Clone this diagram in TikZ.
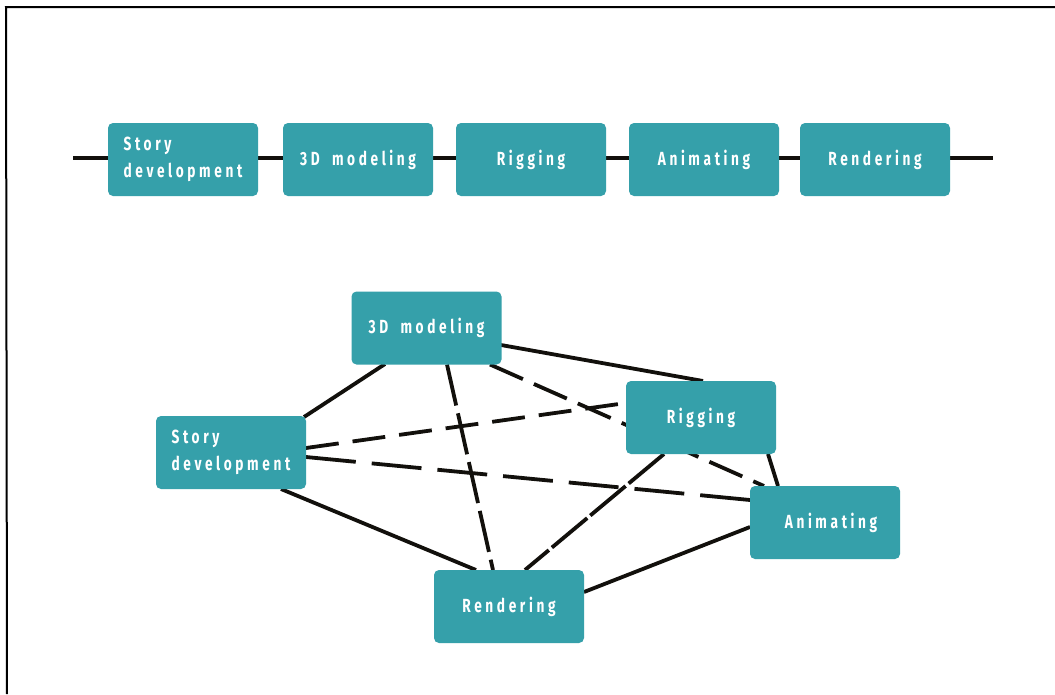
\documentclass[tikz,border=0pt]{standalone}
\usepackage{fontspec}
\setmainfont{Fira Sans}[FakeStretch=0.72, LetterSpace=19, WordSpace=1.8]
\usetikzlibrary{calc}
\definecolor{boxteal}{RGB}{53,160,170}
\definecolor{edgeblack}{RGB}{18,16,12}
\tikzset{
  stagebox/.style={fill=boxteal, draw=none, rounded corners=5pt,
    minimum width=150pt, minimum height=73pt, inner sep=0pt,
    text=white, font=\fontsize{19}{27}\selectfont\bfseries, align=left},
  link/.style={draw=edgeblack, line width=3.8pt},
  mainline/.style={draw=edgeblack, line width=4.2pt},
  frameline/.style={draw=black, line width=2pt}
}
\begin{document}
\begin{tikzpicture}[x=1pt,y=-1pt]
\useasboundingbox (0,0) rectangle (1055,694);
\fill[white] (0,0) rectangle (1055,694);
\coordinate (fa) at (6,7);
\coordinate (fb) at (1055,7);
\coordinate (fc) at (7,694);
\draw[frameline] (fb) -- (fa) -- (fc);

% top pipeline
\coordinate (ls) at (73,158);
\coordinate (le) at (993,158);
\draw[mainline] (ls) -- (le);
\node[stagebox] (t1) at (183,159.5) {Story\\development};
\node[stagebox] (t2) at (358,159.5) {3D modeling};
\node[stagebox] (t3) at (531,159.5) {Rigging};
\node[stagebox] (t4) at (704,159.5) {Animating};
\node[stagebox] (t5) at (875,159.5) {Rendering};

% graph node positions
\coordinate (c3d) at (426.5,328);
\coordinate (cst) at (231,452.5);
\coordinate (crg) at (701,417.5);
\coordinate (can) at (825,522.5);
\coordinate (crn) at (509,606.5);

% edges (behind the boxes)
\draw[link] ($(c3d)+(-41.5,36)$) -- ($(cst)+(73,-35.5)$);
\draw[link] ($(c3d)+(74.5,17)$) -- ($(crg)+(2,-36.5)$);
\draw[link, dash pattern=on 36pt off 12pt] ($(c3d)+(63.5,36.5)$) -- ($(can)+(-61,-36.5)$);
\draw[link, dash pattern=on 42pt off 8pt] ($(c3d)+(20.5,36.5)$) -- ($(crn)+(-16,-36.5)$);
\draw[link, dash pattern=on 33pt off 14pt] ($(cst)+(75,-4.5)$) -- ($(crg)+(-75,-14.5)$);
\draw[link, dash pattern=on 50pt off 16pt] ($(cst)+(75,4.5)$) -- ($(can)+(-75,-22.5)$);
\draw[link] ($(cst)+(50,36.5)$) -- ($(crn)+(-33,-36.5)$);
\draw[link] ($(crg)+(67,36.5)$) -- ($(can)+(-47,-36.5)$);
\draw[link, dash pattern=on 46pt off 4pt] ($(crg)+(-37,36.5)$) -- ($(crn)+(16,-36.5)$);
\draw[link] ($(can)+(-75,4.5)$) -- ($(crn)+(75,-14.5)$);

% graph boxes
\node[stagebox] (g3d) at (c3d) {3D modeling};
\node[stagebox] (gst) at (cst) {Story\\development};
\node[stagebox] (grg) at (crg) {Rigging};
\node[stagebox] (gan) at (can) {\hspace*{12pt}Animating};
\node[stagebox] (grn) at (crn) {Rendering};
\end{tikzpicture}
\end{document}
